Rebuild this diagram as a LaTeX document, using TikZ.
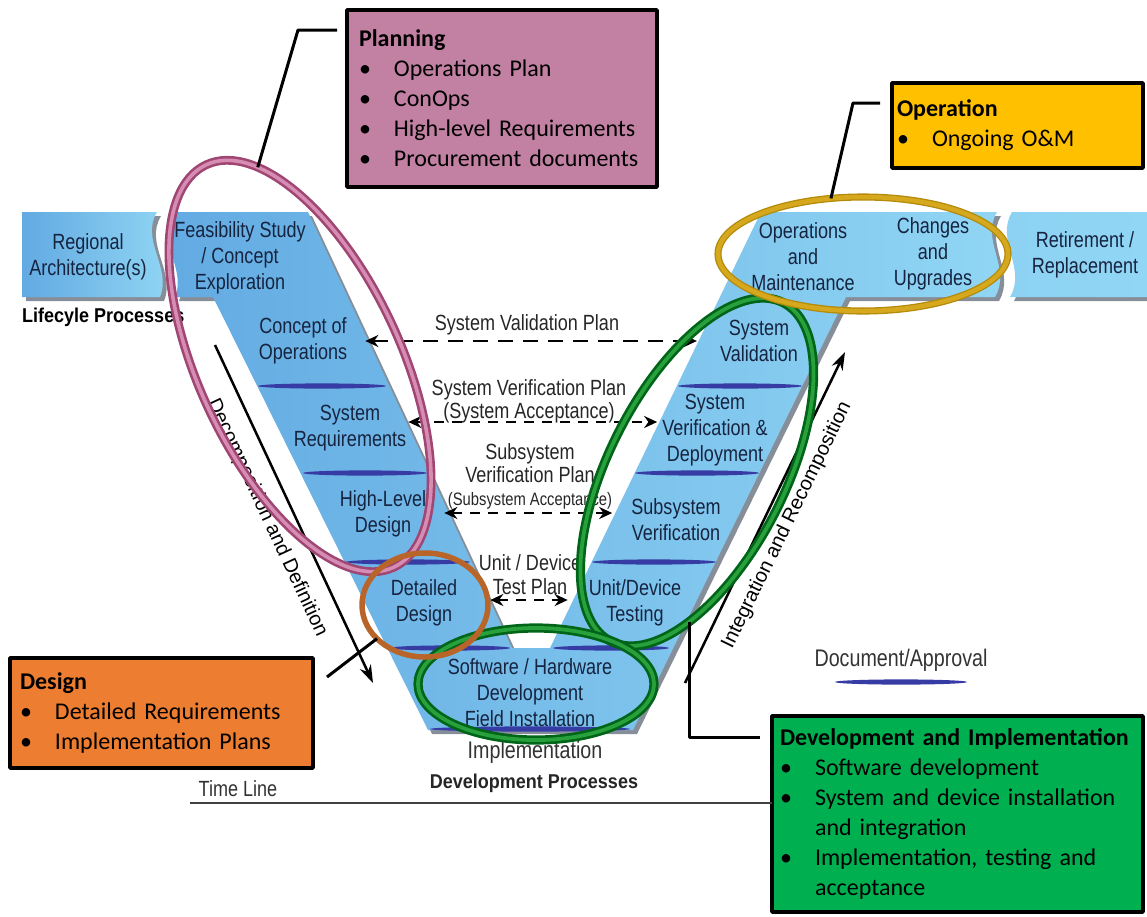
\documentclass[tikz,border=0pt]{standalone}
\usepackage{fontspec}
\setmainfont{Liberation Sans}
\newfontfamily\vfont[FakeStretch=0.82]{Liberation Sans}
\newfontfamily\lfont[FakeStretch=0.9]{Liberation Sans}
\newfontfamily\boxfont{Carlito}
\usetikzlibrary{arrows.meta,shapes.geometric,shadows}

\definecolor{vblueL}{RGB}{98,170,226}
\definecolor{vblueR}{RGB}{145,214,244}
\definecolor{vshadow}{RGB}{35,50,70}
\definecolor{sepblue}{RGB}{55,60,165}
\definecolor{vtextcol}{RGB}{22,36,64}
\definecolor{planfill}{RGB}{194,129,163}
\definecolor{opfill}{RGB}{255,192,0}
\definecolor{desfill}{RGB}{237,125,49}
\definecolor{devfill}{RGB}{0,176,80}
\definecolor{pinkring}{RGB}{160,70,115}
\definecolor{pinkcore}{RGB}{215,140,180}
\definecolor{greenring}{RGB}{0,100,25}
\definecolor{greencore}{RGB}{40,160,60}
\definecolor{goldring}{RGB}{180,138,10}
\definecolor{goldcore}{RGB}{214,168,30}
\definecolor{brownring}{RGB}{185,100,40}

\newcommand{\boxitem}{\makebox[35pt][l]{\textbullet}}

\begin{document}
\begin{tikzpicture}[x=1pt, y=-1pt, line join=round,
  vshade/.style={left color=vblueL, right color=vblueR,
    drop shadow={shadow xshift=4pt, shadow yshift=-4pt, fill=vshadow, opacity=.55}},
  vtext/.style={font=\vfont\fontsize{22}{26}\selectfont, text=vtextcol, align=center, inner sep=2pt},
  plantext/.style={font=\vfont\fontsize{22}{23}\selectfont, text=black!85, align=center, inner sep=1pt},
  planarrow/.style={line width=2.5pt, dash pattern=on 10pt off 8pt,
    {Stealth[length=13pt,width=12pt]}-{Stealth[length=13pt,width=12pt]}},
  flowarrow/.style={line width=2.5pt, -{Stealth[length=18pt,width=12pt]}},
  ring/.style={ellipse, inner sep=0pt, outer sep=0pt},
  greenring/.style={ring, draw=greenring, double=greencore, line width=2.7pt, double distance=3.8pt},
  infobox/.style={draw=black, line width=3.5pt, anchor=north west, outer sep=0pt, align=left,
    font=\boxfont\fontsize{24}{30}\selectfont, inner ysep=0pt},
  leader/.style={line width=3pt}]
\useasboundingbox (0,0) rectangle (1147,916);

% corners of the V
\coordinate (fa) at (172,212);
\coordinate (fb) at (308,212);
\coordinate (na) at (512,648);
\coordinate (nb) at (550,648);
\coordinate (oa) at (761,212);
\coordinate (ob) at (997,212);
\coordinate (oc) at (995,297);
\coordinate (od) at (846,297);
\coordinate (vb) at (633,730);
\coordinate (va) at (428,730);
\coordinate (fd) at (213,297);
\coordinate (fc) at (175,297);

\shade[vshade] (22,212) -- (157,212) .. controls (140,240) and (172,268) .. (160,297) -- (22,297) -- cycle;
\shade[vshade] (fa) -- (fb) -- (na) -- (nb) -- (oa) -- (ob) .. controls (980,240) and (1012,268) .. (oc)
  -- (od) -- (vb) -- (va) -- (fd) -- (fc) .. controls (187,268) and (155,240) .. (fa) -- cycle;
\shade[vshade, left color=vblueR!90!vblueL] (1012,212) -- (1147,212) -- (1147,297) -- (1010,297)
  .. controls (1027,268) and (995,240) .. (1012,212) -- cycle;

% document / approval bars
\foreach \cx/\cy/\hw in {322/386/64, 365/473/62, 408/562/62, 450/648/60,
    740/386/62, 697/473/62, 654/562/62, 611/648/58, 530/729/100, 901/682/66}
  \fill[sepblue] (\cx,\cy) ellipse ({\hw} and 2.6);

\node[vtext] (regional) at (88,257) {Regional\\Architecture(s)};
\node[vtext] (feas) at (240,258) {Feasibility Study\\/ Concept\\Exploration};
\node[vtext] (conops) at (303,341) {Concept of\\Operations};
\node[vtext] (sysreq) at (350,428) {System\\Requirements};
\node[vtext] (hld) at (383,514) {High-Level\\Design};
\node[vtext] (detdes) at (424,603) {Detailed\\Design};
\node[vtext] (swhw) at (530,693) {Software / Hardware\\Development\\Field Installation};
\node[vtext] (unit) at (635,603) {Unit/Device\\Testing};
\node[vtext] (subver) at (676,520) {Subsystem\\Verification};
\node[vtext] (sysver) at (715,430) {System\\Verification \&\\Deployment};
\node[vtext] (sysval) at (759,341) {System\\Validation};
\node[vtext] (opsmaint) at (803,257) {Operations\\and\\Maintenance};
\node[vtext] (changes) at (933,254) {Changes\\and\\Upgrades};
\node[vtext] (retire) at (1085,255) {Retirement /\\Replacement};

\node[font=\lfont\bfseries\fontsize{20}{24}\selectfont, anchor=west, inner sep=0pt] (lifecycle) at (22,317) {Lifecyle Processes};
\node[font=\vfont\fontsize{24}{28}\selectfont, text=black!80] (impl) at (535,752) {Implementation};
\node[font=\lfont\bfseries\fontsize{20}{24}\selectfont, text=black!85] (devproc) at (534,783) {Development Processes};
\node[font=\vfont\fontsize{22}{26}\selectfont, text=black!80] (timeline) at (238,789) {Time Line};
\node[font=\vfont\fontsize{24}{28}\selectfont, text=black!80] (docapp) at (901,660) {Document/Approval};

% plans between the two arms
\node[plantext] (valplan) at (527,325) {System Validation Plan};
\node[plantext] (verplan) at (529,401) {System Verification Plan\\(System Acceptance)};
\node[plantext] (subplan) at (530,476) {Subsystem\\Verification Plan\\{\fontsize{18}{23}\selectfont(Subsystem Acceptance)}};
\node[plantext, font=\vfont\fontsize{22}{24}\selectfont] (unitplan) at (530,575) {Unit / Device\\Test Plan};

\draw[planarrow, dash pattern=on 15pt off 10pt] ([xshift=16pt]conops.east) -- ([xshift=-21pt]sysval.west);
\draw[planarrow] ([yshift=6pt]sysreq.east) -- ([xshift=-3pt,yshift=8pt]sysver.west);
\draw[planarrow] ([xshift=16pt,yshift=1pt]hld.east) -- ([xshift=-17pt,yshift=7pt]subver.west);
\draw[planarrow] ([xshift=31pt,yshift=3pt]detdes.east) -- ([xshift=-19pt,yshift=3pt]unit.west);

% the two long arrows
\coordinate (decA) at (215,345);
\coordinate (decB) at (373,683);
\coordinate (intA) at (685,683);
\coordinate (intB) at (845,352);
\draw[flowarrow] (decA) -- (decB);
\draw[flowarrow] (intA) -- (intB);
\node[font=\fontsize{20}{24}\selectfont, rotate=-65] (declbl) at (267,518) {Decomposition and Definition};
\node[font=\fontsize{20}{24}\selectfont, rotate=64] (intlbl) at (787,525) {Integration and Recomposition};

% rings round the phases
\node[ring, draw=pinkring, double=pinkcore, line width=2.6pt, double distance=3.6pt,
  minimum width=202pt, minimum height=444pt, rotate=25] (planell) at (300,366) {};
\node[greenring, minimum width=176pt, minimum height=380pt, rotate=-27] (devell) at (697,472) {};
\node[greenring, minimum width=236pt, minimum height=112pt] (swell) at (536,684) {};
\node[ring, draw=brownring, line width=5.5pt, minimum width=126pt, minimum height=104pt] (desell) at (425,605) {};
\node[ring, draw=goldring, double=goldcore, line width=1.3pt, double distance=4.5pt,
  minimum width=290pt, minimum height=114pt] (opsell) at (863,254) {};

% phase boxes
\node[infobox, fill=planfill, minimum width=310pt, minimum height=177pt, text width=286pt, inner xsep=12pt] (plan) at (347,10)
  {\textbf{Planning}\\\boxitem Operations Plan\\\boxitem ConOps\\\boxitem High-level Requirements\\\boxitem Procurement documents};
\node[infobox, fill=opfill, minimum width=251pt, minimum height=85pt, text width=241pt, inner xsep=5pt] (ops) at (892,83)
  {\textbf{Operation}\\\boxitem Ongoing O\&M};
\node[infobox, fill=desfill, minimum width=303pt, minimum height=110pt, text width=283pt, inner xsep=10pt] (des) at (10,658)
  {\textbf{Design}\\\boxitem Detailed Requirements\\\boxitem Implementation Plans};
\node[infobox, fill=devfill, minimum width=371pt, minimum height=196pt, text width=355pt, inner xsep=8pt] (dev) at (772,716)
  {\textbf{Development and Implementation}\\\boxitem Software development\\\boxitem System and device installation\\
   \hspace*{35pt}and integration\\\boxitem Implementation, testing and\\\hspace*{35pt}acceptance};

\draw[leader] ([xshift=-10pt,yshift=-20pt]plan.north west) -- ++(-39,0) -- (planell.77);
\draw[leader] ([xshift=-12pt,yshift=-20pt]ops.north west) -- ++(-27,0) -- (opsell.120);
\draw[leader] ([xshift=14pt,yshift=-19pt]des.north east) -- (desell.215);
\draw[leader] (devell.-66) |- ([xshift=-12pt,yshift=-21pt]dev.north west);

\coordinate (tlstart) at (190,803);
\draw[line width=1.8pt, black!75] (tlstart) -- (tlstart -| dev.west);
\end{tikzpicture}
\end{document}
